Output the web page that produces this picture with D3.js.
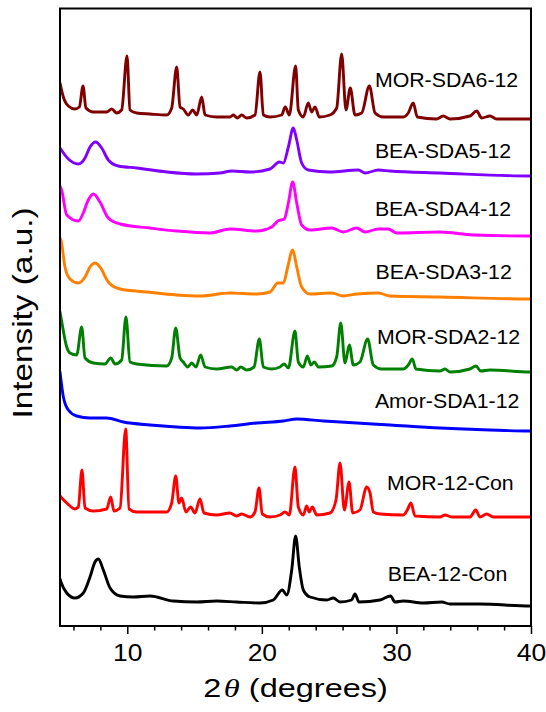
<!DOCTYPE html>
<html>
<head>
<meta charset="utf-8">
<script src="https://cdn.jsdelivr.net/npm/d3@7"></script>
<style>
  body { margin: 0; background: #fff; }
  svg { display: block; }
  text { font-family: "Liberation Sans", Arial, Helvetica, sans-serif; fill: #000; }
</style>
</head>
<body>
<svg id="chart" width="546" height="712"></svg>
<script>
// XRD patterns, stacked: [2θ (degrees), intensity (a.u.)]
const morSda6 = [[5.0,543],[5.25,529],[5.62,520],[6.11,517],[6.44,519],[6.71,540],[6.93,518],[7.48,514],[8.47,514],[8.84,517],[9.21,513],[9.58,516],[9.98,570],[10.2,516],[10.7,513],[11.69,512],[12.93,511],[13.3,518],[13.67,559],[13.92,519],[14.16,517],[14.53,511],[14.86,516],[15.16,511],[15.53,529],[15.78,511],[16.64,509],[17.63,509],[17.88,511],[18.18,508],[18.5,511],[18.87,508],[19.49,511],[19.86,554],[20.11,511],[20.61,509],[21.47,511],[21.74,519],[22.04,511],[22.51,560],[22.71,516],[23.08,509],[23.45,523],[23.7,514],[23.95,519],[24.27,509],[25.06,511],[25.56,518],[25.93,572],[26.25,516],[26.57,538],[26.92,511],[27.42,513],[27.99,540],[28.41,513],[29.03,509],[30.51,509],[30.88,513],[31.25,523],[31.55,509],[32.99,507],[33.48,510],[33.98,507],[35.47,510],[35.96,515],[36.34,508],[36.95,510],[37.45,507],[39.93,507],[40,507]];

const beaSda5 = [[5.0,478],[5.62,467],[6.36,462],[6.86,468],[7.23,479],[7.65,484],[8.1,478],[8.59,466],[9.33,460],[10.7,458],[12.93,454],[15.16,452],[16.89,453],[17.76,455],[19.12,454],[20.61,457],[21.3,464],[21.6,463],[21.97,479],[22.34,498],[22.59,486],[22.96,463],[23.45,456],[25.06,454],[27.17,456],[27.67,453],[28.66,456],[29.52,455],[33.24,453],[39.93,450],[40,450]];

const beaSda4 = [[5.0,440],[5.12,436],[5.5,411],[6.36,405],[6.73,413],[7.1,426],[7.48,432],[7.97,424],[8.59,408],[9.46,402],[11.69,398],[13.67,395],[16.15,393],[17.63,397],[19.62,395],[20.73,399],[21.18,405],[21.67,407],[21.97,423],[22.29,444],[22.59,423],[22.96,401],[23.58,396],[25.19,398],[26.05,394],[27.05,398],[27.67,394],[28.66,397],[29.4,397],[30.02,393],[33.24,394],[35.71,391],[39.93,390],[40,390]];

const beaSda3 = [[5.0,388],[5.07,386],[5.37,359],[5.74,347],[6.36,343],[6.86,349],[7.23,359],[7.6,363],[7.97,359],[8.59,344],[9.46,337],[11.44,334],[13.67,331],[15.4,330],[17.63,333],[19.62,332],[20.61,334],[21.18,343],[21.6,343],[21.92,359],[22.29,376],[22.59,359],[22.96,339],[23.58,332],[25.19,333],[26.05,330],[27.05,332],[28.66,333],[29.52,330],[33.24,329],[39.93,327],[40,327]];

const morSda2 = [[5.0,314],[5.12,305],[5.5,279],[5.74,273],[6.24,271],[6.61,299],[6.86,268],[7.48,263],[8.34,262],[8.77,268],[9.09,262],[9.58,266],[9.9,309],[10.2,264],[10.7,262],[12.93,260],[13.3,268],[13.6,298],[13.92,268],[14.16,264],[14.49,259],[14.79,263],[15.11,259],[15.45,271],[15.78,259],[16.64,257],[17.76,259],[18.13,256],[18.43,259],[18.87,256],[19.42,259],[19.81,287],[20.11,259],[20.73,257],[21.35,259],[21.65,262],[21.97,258],[22.46,295],[22.71,264],[23.08,259],[23.38,270],[23.65,261],[23.9,264],[24.2,259],[25.19,260],[25.56,269],[25.86,303],[26.18,263],[26.5,281],[26.8,261],[27.29,264],[27.86,287],[28.28,261],[28.9,257],[30.51,257],[30.88,261],[31.18,267],[31.45,257],[33.24,255],[33.61,257],[33.98,254],[35.47,257],[35.91,260],[36.26,255],[36.95,256],[39.93,254],[40,254]];

const amorSda1 = [[5.0,254],[5.25,229],[5.62,216],[6.24,210],[7.23,208],[8.47,208],[9.71,204],[11.69,201],[13.67,199],[15.4,198],[17.63,200],[19.62,203],[21.6,205],[22.59,207],[24.57,205],[27.05,203],[29.52,201],[33.24,198],[36.95,196],[39.93,195],[40,195]];

const morCon = [[5.0,130],[5.5,123],[6.11,117],[6.36,119],[6.63,156],[6.86,118],[7.48,115],[8.47,117],[8.77,129],[9.01,115],[9.46,118],[9.88,197],[10.13,117],[10.7,114],[12.93,114],[13.3,123],[13.6,150],[13.84,123],[14.04,128],[14.36,114],[14.71,119],[15.03,113],[15.4,127],[15.7,113],[16.64,111],[17.63,113],[18.13,110],[18.5,112],[19.12,109],[19.49,114],[19.79,138],[20.03,112],[20.61,109],[21.35,111],[21.72,114],[22.04,111],[22.46,159],[22.71,119],[23.08,111],[23.33,120],[23.52,114],[23.75,119],[24.08,111],[25.06,113],[25.51,126],[25.81,163],[26.13,116],[26.48,144],[26.75,113],[27.29,116],[27.79,139],[28.04,133],[28.28,114],[28.78,112],[30.51,111],[30.81,116],[31.08,123],[31.38,110],[33.24,109],[33.61,111],[34.11,109],[35.47,109],[35.89,116],[36.21,109],[36.71,112],[37.2,109],[39.93,109],[40,109]];

const beaCon = [[5.0,47],[5.07,44],[5.5,33],[6.11,28],[6.73,33],[7.23,49],[7.6,64],[7.85,67],[8.22,56],[8.72,38],[9.46,30],[10.45,29],[11.69,30],[13.42,25],[15.16,24],[16.64,25],[18.13,24],[19.86,23],[20.85,26],[21.52,36],[21.85,31],[22.22,56],[22.51,90],[22.78,59],[23.08,36],[23.58,29],[24.82,26],[25.31,28],[25.81,24],[26.67,26],[26.92,32],[27.22,24],[28.78,26],[29.57,30],[29.89,24],[30.51,25],[32.0,23],[33.36,24],[33.98,22],[36.21,22],[39.93,20],[40,20]];

const seriesNames  = ["MOR-SDA6-12", "BEA-SDA5-12", "BEA-SDA4-12", "BEA-SDA3-12",
                      "MOR-SDA2-12", "Amor-SDA1-12", "MOR-12-Con", "BEA-12-Con"];
const seriesValues = [morSda6, beaSda5, beaSda4, beaSda3, morSda2, amorSda1, morCon, beaCon];

const xMajorTicks = [10, 20, 30, 40];
const xMinorTicks = [6, 8, 12, 14, 16, 18, 22, 24, 26, 28, 32, 34, 36, 38];

// ---- styling / layout ----
const colors = ["#800000", "#8000ff", "#ff00ff", "#ff8000", "#008000", "#0000ff", "#ff0000", "#000000"];
// label anchor: left edge in 2θ, baseline in intensity units
const labelLayout = [[28.4, 539], [28.4, 468], [28.4, 410], [28.45, 347],
                     [28.55, 282], [28.4, 218], [29.3, 136], [29.35, 45]];

const margin = { left: 60, right: 531, top: 8.5, bottom: 626 };
const svg = d3.select("#chart");

const x = d3.scaleLinear().domain([5, 40]).range([margin.left, margin.right]);
const y = d3.scaleLinear().domain([0, 617.5]).range([margin.bottom, margin.top]);

svg.append("defs").append("clipPath").attr("id", "plot-clip")
  .append("rect")
  .attr("x", margin.left).attr("y", margin.top)
  .attr("width", margin.right - margin.left).attr("height", margin.bottom - margin.top);

const line = d3.line()
  .x(d => x(d[0]))
  .y(d => y(d[1]))
  .curve(d3.curveMonotoneX);

const traces = svg.append("g").attr("clip-path", "url(#plot-clip)");
seriesValues.forEach((vals, i) => {
  traces.append("path")
    .datum(vals)
    .attr("d", line)
    .attr("fill", "none")
    .attr("stroke", colors[i])
    .attr("stroke-width", 2.9)
    .attr("stroke-linejoin", "round")
    .attr("stroke-linecap", "round");
});

// series labels
seriesNames.forEach((name, i) => {
  const [lx, ly] = labelLayout[i];
  svg.append("text")
    .attr("transform", `translate(${x(lx)},${y(ly)}) scale(1.04,1)`)
    .attr("font-size", 20.5)
    .text(name);
});

// bottom axis: major + minor ticks
const axisMajor = d3.axisBottom(x).tickValues(xMajorTicks).tickSize(8).tickSizeOuter(0).tickFormat(d3.format("d"));
const axisMinor = d3.axisBottom(x).tickValues(xMinorTicks).tickSize(4.5).tickSizeOuter(0).tickFormat("");

const gMinor = svg.append("g").attr("transform", `translate(0,${margin.bottom})`).call(axisMinor);
gMinor.select(".domain").remove();
gMinor.selectAll("line").attr("stroke", "#000").attr("stroke-width", 1.5);

const gMajor = svg.append("g").attr("transform", `translate(0,${margin.bottom})`).call(axisMajor);
gMajor.select(".domain").remove();
gMajor.selectAll("line").attr("stroke", "#000").attr("stroke-width", 1.5);
gMajor.selectAll("text")
  .attr("font-size", 23)
  .attr("font-family", "'Liberation Sans', Arial, sans-serif")
  .attr("fill", "#000")
  .attr("y", 0).attr("dy", 0)
  .attr("transform", "translate(0,35) scale(1.15,1)");

// frame
svg.append("rect")
  .attr("x", margin.left).attr("y", margin.top)
  .attr("width", margin.right - margin.left).attr("height", margin.bottom - margin.top)
  .attr("fill", "none").attr("stroke", "#000").attr("stroke-width", 2);

// axis titles
const xTitle = svg.append("text")
  .attr("transform", `translate(${(margin.left + margin.right) / 2},697) scale(1.3,1)`)
  .attr("text-anchor", "middle")
  .attr("font-size", 25);
xTitle.append("tspan").text("2");
xTitle.append("tspan")
  .attr("font-style", "italic")
  .attr("font-family", "'Liberation Serif', 'Times New Roman', serif")
  .attr("dx", 2)
  .text("θ");
xTitle.append("tspan").text(" (degrees)");

svg.append("text")
  .attr("transform", `translate(32,313) rotate(-90) scale(1.19,1)`)
  .attr("text-anchor", "middle")
  .attr("font-size", 28)
  .text("Intensity (a.u.)");
</script>
</body>
</html>
